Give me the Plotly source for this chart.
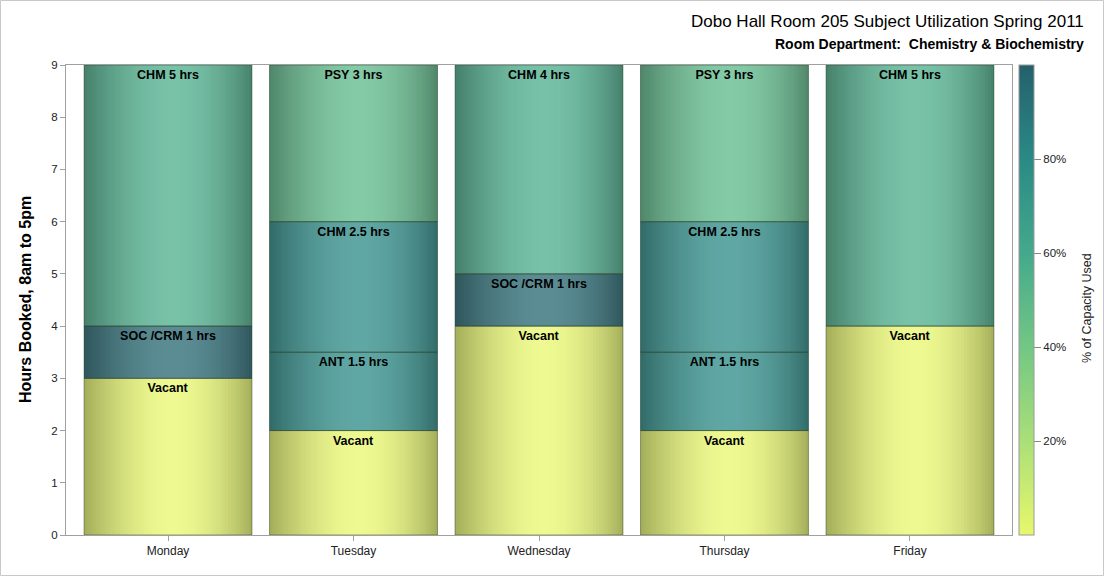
import math
import plotly.graph_objects as go

# ---------------- data ----------------
days = ["Monday", "Tuesday", "Wednesday", "Thursday", "Friday"]
seg_day = ["Monday", "Monday", "Monday",
           "Tuesday", "Tuesday", "Tuesday", "Tuesday",
           "Wednesday", "Wednesday", "Wednesday",
           "Thursday", "Thursday", "Thursday", "Thursday",
           "Friday", "Friday"]
seg_label = ["Vacant", "SOC /CRM 1 hrs", "CHM 5 hrs",
             "Vacant", "ANT 1.5 hrs", "CHM 2.5 hrs", "PSY 3 hrs",
             "Vacant", "SOC /CRM 1 hrs", "CHM 4 hrs",
             "Vacant", "ANT 1.5 hrs", "CHM 2.5 hrs", "PSY 3 hrs",
             "Vacant", "CHM 5 hrs"]
seg_hours = [3, 1, 5,
             2, 1.5, 2.5, 3,
             4, 1, 4,
             2, 1.5, 2.5, 3,
             4, 5]
seg_pct = [0, 97, 57,
           0, 80, 80, 50,
           0, 97, 58,
           0, 80, 80, 50,
           0, 57]
pct_ticks = [20, 40, 60, 80]
y_ticks = [0, 1, 2, 3, 4, 5, 6, 7, 8, 9]

# stacking bases computed from the hours
seg_base = []
running = {}
for d, h in zip(seg_day, seg_hours):
    b = running.get(d, 0)
    seg_base.append(b)
    running[d] = b + h

# ---------------- colours ----------------
cscale = [[0.0, "#e8f76c"], [0.2, "#aadf78"], [0.4, "#72c784"],
          [0.6, "#44a98c"], [0.8, "#2a8a86"], [1.0, "#24606c"]]


def hex2rgb(h):
    h = h.lstrip("#")
    return tuple(int(h[i:i + 2], 16) for i in (0, 2, 4))


def sample(p):
    p = max(0.0, min(1.0, p))
    for (a, ca), (b, cb) in zip(cscale[:-1], cscale[1:]):
        if a <= p <= b:
            f = (p - a) / (b - a) if b > a else 0
            r1, r2 = hex2rgb(ca), hex2rgb(cb)
            return tuple(r1[i] + (r2[i] - r1[i]) * f for i in range(3))
    return hex2rgb(cscale[-1][1])


def shade(rgb, s):
    dark = [c * 0.60 + 24 for c in rgb]
    light = [c * 0.75 + 255 * 0.25 for c in rgb]
    out = [dark[i] + (light[i] - dark[i]) * s for i in range(3)]
    return "rgb(%d,%d,%d)" % tuple(int(round(min(255, max(0, v)))) for v in out)


base_rgb = [sample(p / 100.0) for p in seg_pct]

BAR_W = 0.905
N = 56
dw = BAR_W / N
gamma = math.log(0.5) / math.log(0.53)

fig = go.Figure()

# underlying bar carrying the colour axis (hidden under the strips)
fig.add_trace(go.Bar(
    x=seg_day, y=seg_hours, base=seg_base, width=BAR_W,
    marker=dict(color=seg_pct, coloraxis="coloraxis", line=dict(width=0)),
    hoverinfo="skip", showlegend=False))

# gradient strips
for k in range(N):
    t = (k + 0.5) / N
    tt = t ** gamma
    s = math.sin(math.pi * tt) ** 0.85
    cols = [shade(c, s) for c in base_rgb]
    off = -BAR_W / 2 + k * dw
    wid = min(dw * 1.8, BAR_W / 2 - off)
    fig.add_trace(go.Bar(
        x=seg_day, y=seg_hours, base=seg_base, width=wid, offset=off,
        marker=dict(color=cols, line=dict(width=0)),
        hoverinfo="skip", showlegend=False))

# outlines + labels
fig.add_trace(go.Bar(
    x=seg_day, y=seg_hours, base=seg_base, width=BAR_W,
    marker=dict(color="rgba(0,0,0,0)",
                line=dict(color="rgba(45,70,45,0.5)", width=1)),
    text=seg_label, textposition="inside", insidetextanchor="end",
    textangle=0, constraintext="none",
    insidetextfont=dict(family="Arial, Liberation Sans", size=12.5,
                        color="#000000", weight="bold"),
    hovertemplate="%{x}: %{text}<extra></extra>", showlegend=False))

FONT = "Arial, Liberation Sans, sans-serif"
L, R, T, B = 66, 92, 65, 41
W, H = 1104, 576
PW, PH = W - L - R, H - T - B


def px(x):
    return (x - L) / PW


def py(y):
    return (H - B - y) / PH


fig.update_layout(
    width=W, height=H,
    margin=dict(l=L, r=R, t=T, b=B, pad=0),
    barmode="overlay",
    paper_bgcolor="white", plot_bgcolor="white",
    font=dict(family=FONT, color="#222222"),
    coloraxis=dict(
        colorscale=cscale, cmin=0, cmax=100,
        colorbar=dict(
            thickness=15, thicknessmode="pixels",
            len=PH, lenmode="pixels",
            x=px(1019), xanchor="left", xpad=0,
            y=0.5, yanchor="middle", ypad=0,
            outlinecolor="#9a9a9a", outlinewidth=1,
            tickvals=pct_ticks, ticktext=["%d%%" % v for v in pct_ticks],
            ticks="outside", ticklen=7, tickcolor="#888888",
            tickfont=dict(size=11.5, color="#222222", family=FONT),
            title=dict(text=""))),
    xaxis=dict(
        type="category", categoryorder="array", categoryarray=days,
        range=[-0.55, 4.55], showgrid=False, zeroline=False,
        showline=True, linecolor="#a0a0a0", linewidth=1, mirror=True,
        ticks="outside", ticklen=5, tickcolor="#a0a0a0",
        tickfont=dict(size=12, color="#222222", family=FONT)),
    yaxis=dict(
        range=[0, 9], tickvals=y_ticks, showgrid=False, zeroline=False,
        showline=True, linecolor="#a0a0a0", linewidth=1, mirror=True,
        ticks="outside", ticklen=5, tickcolor="#a0a0a0",
        tickfont=dict(size=11.5, color="#222222", family=FONT)),
    annotations=[
        dict(text="Dobo Hall Room 205 Subject Utilization Spring 2011",
             xref="paper", yref="paper", x=px(1086), y=py(22),
             xanchor="right", yanchor="middle", showarrow=False,
             font=dict(size=17, color="#000000", family=FONT)),
        dict(text="<b>Room Department: \u00a0Chemistry &amp; Biochemistry</b>",
             xref="paper", yref="paper", x=px(1086), y=py(44),
             xanchor="right", yanchor="middle", showarrow=False,
             font=dict(size=14, color="#000000", family=FONT)),
        dict(text="<b>Hours Booked, 8am to 5pm</b>",
             xref="paper", yref="paper", x=px(25), y=0.5,
             xanchor="center", yanchor="middle", textangle=-90,
             showarrow=False,
             font=dict(size=16, color="#000000", family=FONT)),
        dict(text="% of Capacity Used",
             xref="paper", yref="paper", x=px(1087), y=py(308),
             xanchor="center", yanchor="middle", textangle=-90,
             showarrow=False,
             font=dict(size=12.5, color="#222222", family=FONT)),
    ],
    shapes=[dict(type="rect", xref="paper", yref="paper",
                 x0=px(0.5), x1=px(W - 0.5), y0=py(0.5), y1=py(H - 0.5),
                 line=dict(color="#c8c8c8", width=1), layer="below")],
)

fig.write_html("out.html")
